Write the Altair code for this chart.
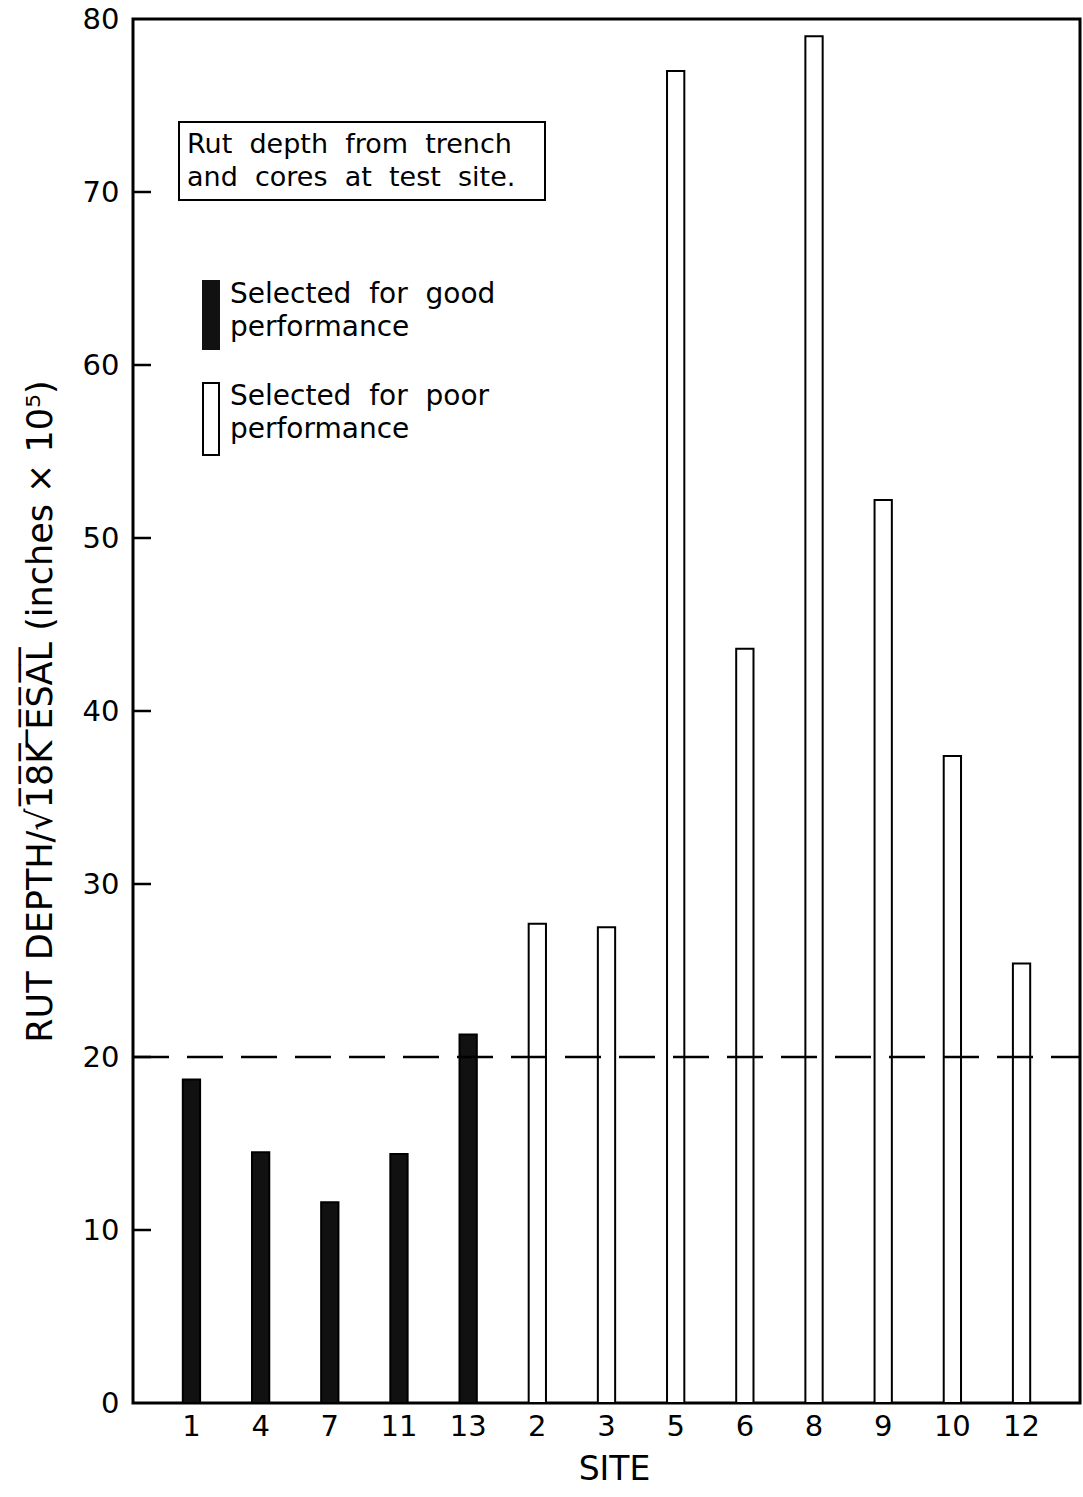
import altair as alt
import pandas as pd

# ---- data ----
sites = ["1", "4", "7", "11", "13", "2", "3", "5", "6", "8", "9", "10", "12"]
values = [18.7, 14.5, 11.6, 14.4, 21.3, 27.7, 27.5, 77.0, 43.6, 79.0, 52.2, 37.4, 25.4]
groups = ["good"] * 5 + ["poor"] * 8
y_ticks = [0, 10, 20, 30, 40, 50, 60, 70, 80]
threshold = [20]
note_lines = ["Rut depth from trench", "and cores at test site."]
legend_good = ["Selected for good", "performance"]
legend_poor = ["Selected for poor", "performance"]


def spaced(s):
    return s.replace(" ", "\u00a0\u00a0")


df = pd.DataFrame({"site": sites, "value": values, "group": groups})
ticks_df = pd.DataFrame({"v": y_ticks[1:-1]})
thr_df = pd.DataFrame({"v": threshold})

W, H = 947, 1384
FONT = "DejaVu Sans"

y_title = "RUT DEPTH/\u221a1\u03058\u0305K\u0305 \u0305E\u0305S\u0305A\u0305L\u0305  (inches \u00d7 10\u2075)"

x_enc = alt.X(
    "site:N",
    sort=sites,
    scale=alt.Scale(paddingInner=0.75, paddingOuter=0.72),
    axis=alt.Axis(
        title="SITE", labelAngle=0, ticks=False, domain=False,
        labelFontSize=29, titleFontSize=33, labelPadding=9, titlePadding=12,
        titleFontWeight="normal", labelColor="black", titleColor="black",
        titleX=481,
    ),
)
y_enc = alt.Y(
    "value:Q",
    scale=alt.Scale(domain=[0, 80], nice=False, zero=True),
    axis=alt.Axis(
        values=y_ticks, ticks=False, domain=False, grid=False,
        labelFontSize=29, labelPadding=14, title=y_title, titleFontSize=35,
        titleFontWeight="normal", titlePadding=24, labelColor="black", titleColor="black",
    ),
)

bars = alt.Chart(df).mark_bar(stroke="black", strokeWidth=2).encode(
    x=x_enc,
    y=y_enc,
    fill=alt.Fill("group:N", scale=alt.Scale(domain=["good", "poor"], range=["#111111", "white"]), legend=None),
)

ticks = alt.Chart(ticks_df).mark_rule(color="black", strokeWidth=2.5).encode(
    y=alt.Y("v:Q", scale=alt.Scale(domain=[0, 80], nice=False)),
    x=alt.value(0), x2=alt.value(18),
)

dash = alt.Chart(thr_df).mark_rule(color="black", strokeWidth=2.5, strokeDash=[36, 18]).encode(
    y=alt.Y("v:Q", scale=alt.Scale(domain=[0, 80], nice=False)),
    x=alt.value(0), x2=alt.value(W),
)

note_box = alt.Chart(pd.DataFrame({"a": [0]})).mark_rect(fill="white", stroke="black", strokeWidth=2).encode(
    x=alt.value(46), x2=alt.value(412), y=alt.value(103), y2=alt.value(181),
)
note_df = pd.DataFrame({"t": [spaced(s) for s in note_lines], "py": [126, 159]})
note_txt = alt.Chart(note_df).mark_text(
    align="left", baseline="middle", fontSize=27, font=FONT, color="black"
).encode(x=alt.value(54), y=alt.Y("py:Q", scale=None), text="t:N")

sw_good = alt.Chart(pd.DataFrame({"a": [0]})).mark_rect(fill="#111111").encode(
    x=alt.value(69), x2=alt.value(87), y=alt.value(261), y2=alt.value(331),
)
sw_poor = alt.Chart(pd.DataFrame({"a": [0]})).mark_rect(fill="white", stroke="black", strokeWidth=2).encode(
    x=alt.value(70), x2=alt.value(86), y=alt.value(364), y2=alt.value(436),
)
leg_df = pd.DataFrame({
    "t": [spaced(s) for s in legend_good + legend_poor],
    "py": [276, 309, 378, 411],
})
leg_txt = alt.Chart(leg_df).mark_text(
    align="left", baseline="middle", fontSize=28, font=FONT, color="black"
).encode(x=alt.value(97), y=alt.Y("py:Q", scale=None), text="t:N")

chart = alt.layer(bars, dash, ticks, note_box, note_txt, sw_good, sw_poor, leg_txt).properties(
    width=W, height=H,
    autosize=alt.AutoSizeParams(type="none"),
    padding={"left": 133, "top": 19, "right": 3, "bottom": 94},
).configure(font=FONT).configure_view(stroke="black", strokeWidth=3).configure_axis(
    labelFont=FONT, titleFont=FONT
)

chart.save("out.html", embed_options={"renderer": "svg", "actions": False})
